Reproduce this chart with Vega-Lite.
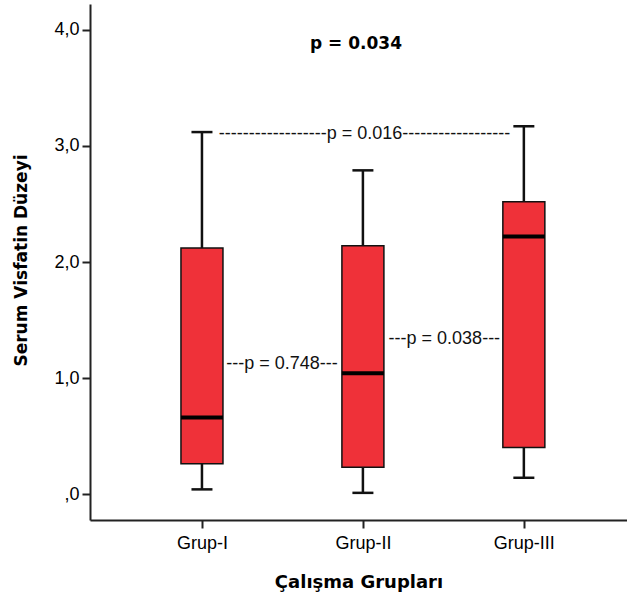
{
  "$schema": "https://vega.github.io/schema/vega-lite/v6.json",
  "autosize": "none",
  "width": 537,
  "height": 516,
  "padding": {"left": 90, "top": 4, "right": 0, "bottom": 86},
  "background": "white",
  "config": {
    "view": {"stroke": null},
    "axis": {"grid": false}
  },
  "datasets": {
    "boxes": [
      {"group": "Grup-I", "g": 1, "min": 0.04, "q1": 0.26, "median": 0.66, "q3": 2.12, "max": 3.12},
      {"group": "Grup-II", "g": 2, "min": 0.01, "q1": 0.23, "median": 1.04, "q3": 2.14, "max": 2.79},
      {"group": "Grup-III", "g": 3, "min": 0.14, "q1": 0.40, "median": 2.22, "q3": 2.52, "max": 3.17}
    ],
    "notes": [
      {"label": "p = 0.034", "x": 1.957, "y": 3.88, "bold": true},
      {"label": "------------------p = 0.016------------------", "x": 2.01, "y": 3.10, "bold": false},
      {"label": "---p = 0.748---", "x": 1.497, "y": 1.12, "bold": false},
      {"label": "---p = 0.038---", "x": 2.506, "y": 1.336, "bold": false}
    ]
  },
  "encoding": {
    "x": {
      "field": "g",
      "type": "quantitative",
      "scale": {"domain": [0.3354, 3.6098], "nice": false, "zero": false},
      "axis": {
        "values": [1, 2, 3],
        "labelExpr": "datum.value == 1 ? 'Grup-I' : datum.value == 2 ? 'Grup-II' : 'Grup-III'",
        "title": "Çalışma Grupları",
        "titleFont": "DejaVu Sans",
        "titleFontWeight": "bold",
        "titleFontSize": 18,
        "titleColor": "black",
        "titleY": 62,
        "titleBaseline": "middle",
        "labelFont": "Liberation Sans",
        "labelFontSize": 18,
        "labelColor": "black",
        "labelPadding": 6,
        "labelBaseline": "top",
        "domainColor": "#222",
        "domainWidth": 2,
        "tickColor": "#222",
        "tickWidth": 2,
        "tickSize": 8
      }
    },
    "y": {
      "type": "quantitative",
      "scale": {"domain": [-0.224, 4.224], "nice": false, "zero": false}
    }
  },
  "layer": [
    {
      "data": {"name": "boxes"},
      "mark": {"type": "rule", "color": "#111", "strokeWidth": 2.5},
      "encoding": {
        "y": {
          "field": "min",
          "type": "quantitative",
          "axis": {
            "values": [0, 1, 2, 3, 4],
            "labelExpr": "datum.value == 0 ? ',0' : replace(format(datum.value, '.1f'), '.', ',')",
            "title": "Serum Visfatin Düzeyi",
            "titleFont": "DejaVu Sans",
            "titleFontWeight": "bold",
            "titleFontSize": 17,
            "titleColor": "black",
            "titleX": -69,
            "titleY": 256,
            "titleAngle": -90,
            "titleAlign": "center",
            "titleBaseline": "middle",
            "labelFont": "Liberation Sans",
            "labelFontSize": 18,
            "labelColor": "black",
            "labelPadding": 3,
            "domainColor": "#222",
            "domainWidth": 2,
            "tickColor": "#222",
            "tickWidth": 2,
            "tickSize": 8
          }
        },
        "y2": {"field": "max"}
      }
    },
    {
      "data": {"name": "boxes"},
      "mark": {"type": "bar", "size": 42, "color": "#EF3139", "stroke": "#111", "strokeWidth": 1.5},
      "encoding": {
        "y": {"field": "q1", "type": "quantitative"},
        "y2": {"field": "q3"}
      }
    },
    {
      "data": {"name": "boxes"},
      "mark": {"type": "tick", "orient": "horizontal", "size": 42, "thickness": 4, "color": "black", "opacity": 1},
      "encoding": {
        "y": {"field": "median", "type": "quantitative"}
      }
    },
    {
      "data": {"name": "boxes"},
      "mark": {"type": "tick", "orient": "horizontal", "size": 21, "thickness": 2.5, "color": "#111", "opacity": 1},
      "encoding": {
        "y": {"field": "min", "type": "quantitative"}
      }
    },
    {
      "data": {"name": "boxes"},
      "mark": {"type": "tick", "orient": "horizontal", "size": 21, "thickness": 2.5, "color": "#111", "opacity": 1},
      "encoding": {
        "y": {"field": "max", "type": "quantitative"}
      }
    },
    {
      "data": {"name": "notes"},
      "transform": [{"filter": "!datum.bold"}],
      "mark": {"type": "text", "font": "Liberation Sans", "fontSize": 18, "color": "#111", "align": "center", "baseline": "middle"},
      "encoding": {
        "x": {"field": "x", "type": "quantitative"},
        "y": {"field": "y", "type": "quantitative"},
        "text": {"field": "label"}
      }
    },
    {
      "data": {"name": "notes"},
      "transform": [{"filter": "datum.bold"}],
      "mark": {"type": "text", "font": "DejaVu Sans", "fontWeight": "bold", "fontSize": 17, "color": "black", "align": "center", "baseline": "middle"},
      "encoding": {
        "x": {"field": "x", "type": "quantitative"},
        "y": {"field": "y", "type": "quantitative"},
        "text": {"field": "label"}
      }
    },
    {
      "mark": {"type": "rule", "color": "#222", "strokeWidth": 2},
      "encoding": {
        "y": {"datum": 4.224}
      }
    }
  ]
}
